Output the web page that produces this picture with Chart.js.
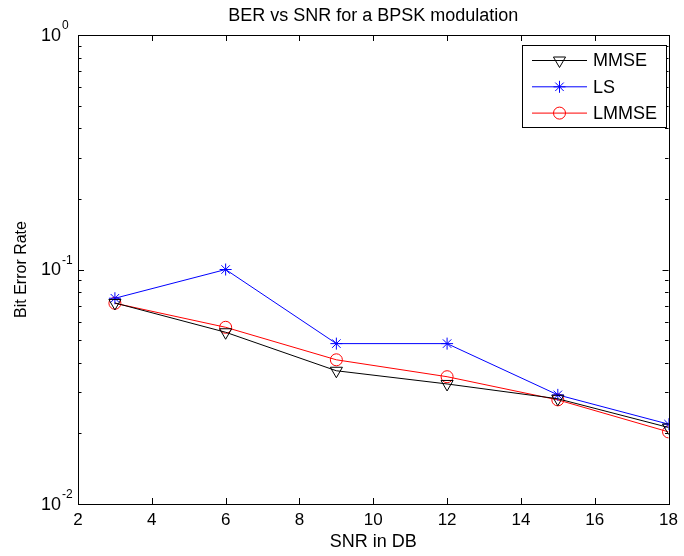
<!DOCTYPE html>
<html>
<head>
<meta charset="utf-8">
<script src="https://cdn.jsdelivr.net/npm/chart.js@4.4.0/dist/chart.umd.min.js"></script>
<style>
html, body { margin: 0; padding: 0; background: #fff; }
canvas { display: block; }
</style>
</head>
<body>
<canvas id="chart_ber" width="684" height="556"></canvas>
<script>
var snrValues = [3, 6, 9, 12, 15, 18];
var berMmse = [0.072, 0.054, 0.037, 0.0325, 0.0281, 0.0212];
var berLs = [0.0754, 0.1, 0.0483, 0.0483, 0.0292, 0.0219];
var berLmmse = [0.0718, 0.0567, 0.0412, 0.0349, 0.0278, 0.0203];
var xTicks = [2, 4, 6, 8, 10, 12, 14, 16, 18];
var yTickExponents = [-2, -1, 0];
var seriesNames = ['MMSE', 'LS', 'LMMSE'];
var chartTitle = 'BER vs SNR for a BPSK modulation';

var fontFamily = '"Liberation Sans", Arial, Helvetica, sans-serif';

function points(values) {
    return snrValues.map(function(x, i) { return {x: x, y: values[i]}; });
}

// markers for the legend box (same shapes as the datasets)
function drawMarker(ctx, ds, x, y) {
    ctx.save();
    ctx.strokeStyle = ds.borderColor;
    ctx.lineWidth = 1;
    ctx.beginPath();
    var r = ds.pointRadius;
    if (ds.pointStyle === 'circle') {
        ctx.arc(x, y, r, 0, Math.PI * 2);
    } else if (ds.pointStyle === 'triangle') {
        var w = r * Math.cos(Math.PI / 6);
        ctx.moveTo(x, y + r);
        ctx.lineTo(x - w, y - r / 2);
        ctx.lineTo(x + w, y - r / 2);
        ctx.closePath();
    } else {
        for (var a = 0; a < 4; a++) {
            var ang = a * Math.PI / 4;
            ctx.moveTo(x - r * Math.cos(ang), y - r * Math.sin(ang));
            ctx.lineTo(x + r * Math.cos(ang), y + r * Math.sin(ang));
        }
    }
    ctx.stroke();
    ctx.restore();
}

var matlabAxes = {
    id: 'matlabAxes',
    afterDraw: function(chart) {
        var ctx = chart.ctx;
        var area = chart.chartArea;
        var xs = chart.scales.x, ys = chart.scales.y;
        ctx.save();
        ctx.strokeStyle = '#000';
        ctx.lineWidth = 1;

        // frame
        ctx.strokeRect(Math.round(area.left) + 0.5, Math.round(area.top) + 0.5,
            Math.round(area.right - area.left), Math.round(area.bottom - area.top));

        ctx.beginPath();
        xTicks.forEach(function(v) {
            var px = Math.round(xs.getPixelForValue(v)) + 0.5;
            ctx.moveTo(px, area.bottom); ctx.lineTo(px, area.bottom - 6);
            ctx.moveTo(px, area.top); ctx.lineTo(px, area.top + 6);
        });
        yTickExponents.forEach(function(e, i) {
            var py = Math.round(ys.getPixelForValue(Math.pow(10, e))) + 0.5;
            ctx.moveTo(area.left, py); ctx.lineTo(area.left + 6, py);
            ctx.moveTo(area.right, py); ctx.lineTo(area.right - 6, py);
            if (i < yTickExponents.length - 1) {
                for (var m = 2; m <= 9; m++) {
                    var pm = Math.round(ys.getPixelForValue(m * Math.pow(10, e))) + 0.5;
                    ctx.moveTo(area.left, pm); ctx.lineTo(area.left + 3.5, pm);
                    ctx.moveTo(area.right, pm); ctx.lineTo(area.right - 3.5, pm);
                }
            }
        });
        ctx.stroke();

        // y tick labels 10^e
        ctx.fillStyle = '#000';
        ctx.textBaseline = 'middle';
        yTickExponents.forEach(function(e) {
            var py = ys.getPixelForValue(Math.pow(10, e));
            ctx.font = '18px ' + fontFamily;
            ctx.textAlign = 'right';
            ctx.fillText('10', area.left - 17, py + 1);
            ctx.font = '12px ' + fontFamily;
            ctx.textAlign = 'left';
            ctx.fillText(String(e), area.left - 16, py - 9);
        });

        // title
        ctx.font = '18px ' + fontFamily;
        ctx.textAlign = 'center';
        ctx.fillText(chartTitle, (area.left + area.right) / 2, 16);

        // legend
        var lx = 522, ly = 45, lw = 144, lh = 82;
        ctx.fillStyle = '#fff';
        ctx.fillRect(lx, ly, lw, lh);
        ctx.strokeRect(lx + 0.5, ly + 0.5, lw, lh);
        chart.data.datasets.forEach(function(ds, i) {
            var ey = ly + 15.5 + i * 26.3;
            ctx.strokeStyle = ds.borderColor;
            ctx.beginPath();
            ctx.moveTo(532, ey); ctx.lineTo(587, ey);
            ctx.stroke();
            drawMarker(ctx, ds, 559.5, ey);
            ctx.fillStyle = '#000';
            ctx.font = '18px ' + fontFamily;
            ctx.textAlign = 'left';
            ctx.fillText(ds.label, 593, ey + 1);
        });
        ctx.restore();
    }
};

var chart_ber = new Chart(document.getElementById('chart_ber'), {
    type: 'line',
    data: {
        datasets: [
            {
                label: seriesNames[0],
                data: points(berMmse),
                borderColor: '#000000',
                backgroundColor: 'rgba(0,0,0,0)',
                borderWidth: 1,
                pointStyle: 'triangle',
                pointRotation: 180,
                pointRadius: 7,
                pointBorderWidth: 1,
                pointBackgroundColor: 'rgba(0,0,0,0)'
            },
            {
                label: seriesNames[1],
                data: points(berLs),
                borderColor: '#0000ff',
                backgroundColor: 'rgba(0,0,0,0)',
                borderWidth: 1,
                pointStyle: 'star',
                pointRadius: 6,
                pointBorderWidth: 1,
                pointBackgroundColor: 'rgba(0,0,0,0)'
            },
            {
                label: seriesNames[2],
                data: points(berLmmse),
                borderColor: '#ff0000',
                backgroundColor: 'rgba(0,0,0,0)',
                borderWidth: 1,
                pointStyle: 'circle',
                pointRadius: 6,
                pointBorderWidth: 1,
                pointBackgroundColor: 'rgba(0,0,0,0)'
            }
        ]
    },
    options: {
        animation: false,
        responsive: false,
        layout: { padding: { top: 35, right: 11, left: 0, bottom: 0 } },
        plugins: {
            legend: { display: false },
            title: { display: false },
            tooltip: { enabled: false }
        },
        scales: {
            x: {
                type: 'linear',
                min: 2,
                max: 18,
                grid: { display: false, drawTicks: false },
                border: { display: false },
                afterBuildTicks: function(scale) {
                    scale.ticks = xTicks.map(function(v) { return {value: v}; });
                },
                afterFit: function(scale) { scale.height = 52; },
                ticks: {
                    color: '#000',
                    padding: 6,
                    maxRotation: 0,
                    font: { family: fontFamily, size: 17 }
                },
                title: {
                    display: true,
                    text: 'SNR in DB',
                    color: '#000',
                    font: { family: fontFamily, size: 18 },
                    padding: { top: 0, bottom: 3 }
                }
            },
            y: {
                type: 'logarithmic',
                min: 0.01,
                max: 1,
                grid: { display: false, drawTicks: false },
                border: { display: false },
                ticks: { display: false },
                afterBuildTicks: function(scale) {
                    scale.ticks = yTickExponents.map(function(e) { return {value: Math.pow(10, e)}; });
                },
                afterFit: function(scale) { scale.width = 78; },
                title: {
                    display: true,
                    text: 'Bit Error Rate',
                    color: '#000',
                    font: { family: fontFamily, size: 16 },
                    padding: { top: 12, bottom: 0 }
                }
            }
        }
    },
    plugins: [matlabAxes]
});
</script>
</body>
</html>
